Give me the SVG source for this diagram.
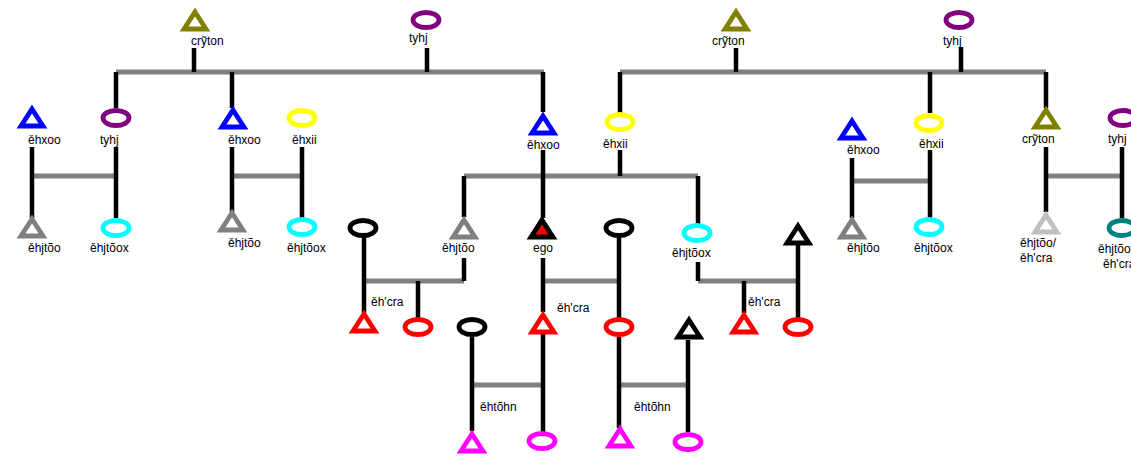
<svg xmlns="http://www.w3.org/2000/svg" xmlns:xlink="http://www.w3.org/1999/xlink" width="1131" height="457" viewBox="0 0 1131 457">
  <defs>
    <!-- male symbol (triangle) and female symbol (ellipse), centred on the origin -->
    <polygon id="tri" points="0,-9 11,8 -11,8"/>
    <ellipse id="ell" cx="0" cy="0" rx="13" ry="7.5"/>
    <style>
      text { font-family: "Liberation Sans", Arial, sans-serif; font-size: 12px; fill: #000; }
      use { fill: none; stroke-width: 4.8; stroke-linejoin: miter; stroke-miterlimit: 6; }
      .blue { stroke: #0000ff; }
      .purple { stroke: #800080; }
      .olive { stroke: #808000; }
      .yellow { stroke: #ffff00; }
      .cyan { stroke: #00ffff; }
      .gray { stroke: #808080; }
      .silver { stroke: #c0c0c0; }
      .teal { stroke: #008080; }
      .red { stroke: #ff0000; }
      .black { stroke: #000000; }
      .magenta { stroke: #ff00ff; }
      .ego { stroke: #000000; fill: #ff0000; }
      .desc { stroke: #000; stroke-width: 4.5; fill: none; }
      .marr { stroke: #808080; stroke-width: 5; fill: none; }
    </style>
  </defs>
  <rect x="0" y="0" width="1131" height="457" fill="#ffffff"/>

  <g id="connectors">
    <!-- sibling / marriage bars -->
    <path class="marr" d="M116,72H544 M620,72H1046 M32,176H117 M232,176H303 M464,176H698 M1046,176H1122 M852,181H930 M364,281H464 M543,281H620 M698,281H798 M472,385H543 M620,385H688"/>
    <!-- descent lines -->
    <path class="desc" d="M194,48V72 M427,48V72 M736,48V72 M961,47V72
      M116,72V108 M232,72V108 M543,72V112 M620,72V114 M930,72V113 M1046,72V108
      M32,147V218 M116,147V218 M232,147V212 M302,147V218
      M543,150V218 M620,150V176 M852,158V218 M930,150V218 M1046,147V212 M1122,147V218
      M464,176V217 M464,258V281 M698,176V224 M698,262V281
      M543,258V312 M364,236V313 M418,281V318 M619,236V318 M619,337V428
      M744,281V313 M798,244V318
      M472,337V431 M543,334V432 M688,340V432"/>
  </g>

  <!-- grandparents, left -->
  <g id="gpa-left"><use xlink:href="#tri" x="195" y="21" class="olive"/><text x="191" y="45">crỹton</text></g>
  <g id="gma-left"><use xlink:href="#ell" x="426" y="20" class="purple"/><text x="409" y="42">tyhj</text></g>
  <!-- grandparents, right -->
  <g id="gpa-right"><use xlink:href="#tri" x="736" y="21" class="olive"/><text x="712" y="45">crỹton</text></g>
  <g id="gma-right"><use xlink:href="#ell" x="959" y="20" class="purple"/><text x="943" y="45">tyhj</text></g>

  <!-- parents' generation -->
  <g id="m-a"><use xlink:href="#tri" x="32" y="118" class="blue"/><text x="28" y="144">ěhxoo</text></g>
  <g id="f-a"><use xlink:href="#ell" x="116" y="118" class="purple"/><text x="100" y="144">tyhj</text></g>
  <g id="m-b"><use xlink:href="#tri" x="233" y="119" class="blue"/><text x="228" y="144">ěhxoo</text></g>
  <g id="f-b"><use xlink:href="#ell" x="302" y="118" class="yellow"/><text x="292" y="144">ěhxii</text></g>
  <g id="father"><use xlink:href="#tri" x="543" y="125" class="blue"/><text x="527" y="149">ěhxoo</text></g>
  <g id="mother"><use xlink:href="#ell" x="620" y="122" class="yellow"/><text x="603" y="148">ěhxii</text></g>
  <g id="m-c"><use xlink:href="#tri" x="852" y="130" class="blue"/><text x="847" y="154">ěhxoo</text></g>
  <g id="f-c"><use xlink:href="#ell" x="929" y="123" class="yellow"/><text x="919" y="148">ěhxii</text></g>
  <g id="m-d"><use xlink:href="#tri" x="1046" y="119" class="olive"/><text x="1022" y="143">crỹton</text></g>
  <g id="f-d"><use xlink:href="#ell" x="1123" y="118" class="purple"/><text x="1108" y="143">tyhj</text></g>

  <!-- cousins -->
  <g id="c-a1"><use xlink:href="#tri" x="32" y="228" class="gray"/><text x="28" y="252">ěhjtõo</text></g>
  <g id="c-a2"><use xlink:href="#ell" x="116" y="228" class="cyan"/><text x="90" y="252">ěhjtõox</text></g>
  <g id="c-b1"><use xlink:href="#tri" x="232" y="222" class="gray"/><text x="228" y="247">ěhjtõo</text></g>
  <g id="c-b2"><use xlink:href="#ell" x="302" y="227" class="cyan"/><text x="287" y="252">ěhjtõox</text></g>
  <g id="c-c1"><use xlink:href="#tri" x="852" y="229" class="gray"/><text x="847" y="252">ěhjtõo</text></g>
  <g id="c-c2"><use xlink:href="#ell" x="929" y="227" class="cyan"/><text x="914" y="252">ěhjtõox</text></g>
  <g id="c-d1"><use xlink:href="#tri" x="1046" y="224" class="silver"/><text x="1020" y="247">ěhjtõo/</text><text x="1020" y="262">ěh'cra</text></g>
  <g id="c-d2"><use xlink:href="#ell" x="1122" y="228" class="teal"/><text x="1098" y="253">ěhjtõo/</text><text x="1103" y="268">ěh'cra</text></g>

  <!-- ego and siblings -->
  <g id="brother"><use xlink:href="#tri" x="464" y="229" class="gray"/><text x="442" y="252">ěhjtõo</text></g>
  <g id="ego"><use xlink:href="#tri" x="542" y="229" class="ego"/><text x="533" y="252">ego</text></g>
  <g id="sister"><use xlink:href="#ell" x="697" y="233" class="cyan"/><text x="672" y="257">ěhjtõox</text></g>

  <!-- spouses -->
  <g id="brother-wife"><use xlink:href="#ell" x="363" y="228" class="black"/></g>
  <g id="ego-wife"><use xlink:href="#ell" x="619" y="228" class="black"/></g>
  <g id="sister-husband"><use xlink:href="#tri" x="798" y="235" class="black"/></g>

  <!-- children -->
  <g id="k-1"><use xlink:href="#tri" x="364" y="323" class="red"/><text x="371" y="306">ěh'cra</text></g>
  <g id="k-2"><use xlink:href="#ell" x="418" y="327" class="red"/></g>
  <g id="k-3"><use xlink:href="#tri" x="543" y="324" class="red"/><text x="557" y="312">ěh'cra</text></g>
  <g id="k-4"><use xlink:href="#ell" x="619" y="327" class="red"/></g>
  <g id="k-5"><use xlink:href="#tri" x="744" y="324" class="red"/><text x="748" y="306">ěh'cra</text></g>
  <g id="k-6"><use xlink:href="#ell" x="798" y="327" class="red"/></g>

  <!-- children's spouses -->
  <g id="k3-wife"><use xlink:href="#ell" x="472" y="327" class="black"/></g>
  <g id="k4-husband"><use xlink:href="#tri" x="689" y="329" class="black"/></g>

  <!-- grandchildren -->
  <g id="g-1"><use xlink:href="#tri" x="472" y="443" class="magenta"/><text x="480" y="411">ěhtõhn</text></g>
  <g id="g-2"><use xlink:href="#ell" x="542" y="441" class="magenta"/></g>
  <g id="g-3"><use xlink:href="#tri" x="620" y="438" class="magenta"/><text x="634" y="411">ěhtõhn</text></g>
  <g id="g-4"><use xlink:href="#ell" x="688" y="442" class="magenta"/></g>
</svg>
